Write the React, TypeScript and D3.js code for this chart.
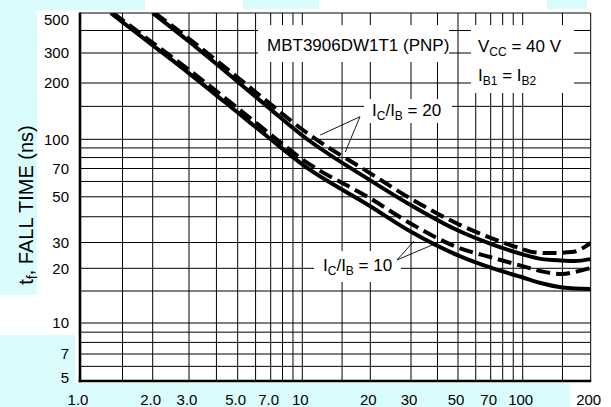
import React from 'react';
import * as d3 from 'd3';

// ---- axis calibration (printed log axes, values -> pixel) ----
const xTickValues = [1, 2, 3, 5, 7, 10, 20, 30, 50, 70, 100, 200];
const xTickLabels = ['1.0', '2.0', '3.0', '5.0', '7.0', '10', '20', '30', '50', '70', '100', '200'];
const xAxisPixels = [80, 152.7, 189, 237.7, 270.7, 302.3, 370.3, 411, 458, 490.7, 522.7, 590.7];

const yTickValues = [5, 7, 10, 20, 30, 50, 70, 100, 200, 300, 500];
const yTickLabels = ['5', '7', '10', '20', '30', '50', '70', '100', '200', '300', '500'];
const yAxisPixels = [381, 354, 323, 268.3, 242.5, 196.8, 168.5, 139.3, 83, 53, 13];

const xGridValues = [1.5, 2, 3, 4, 5, 6, 7, 8, 9, 10, 15, 20, 30, 40, 50, 60, 70, 80, 90, 100, 150];
const yGridValues = [6, 7, 8, 9, 10, 15, 20, 30, 40, 50, 60, 70, 80, 90, 100, 150, 200, 300, 400];

// ---- series: IC (mA) vs tf (ns) ----
const ic20Dashed = [2.05, 3, 5, 7, 10, 20, 30, 50, 70, 100, 110, 130, 165, 200];
const tf20Dashed = [500, 360, 215.5, 153.9, 112.8, 66.1, 48.9, 36.9, 31.6, 27, 25.8, 25.4, 25.8, 29.8];

const ic20Solid = [2, 3, 5, 7, 10, 20, 30, 50, 70, 100, 120, 150, 170, 200];
const tf20Solid = [500, 347.5, 203.5, 144.5, 104.8, 60.8, 45.5, 34.3, 29.4, 24.9, 23.2, 22.6, 22.4, 23.1];

const ic10Dashed = [1.37, 1.5, 2, 3, 5, 7, 10, 20, 30, 50, 70, 100, 120, 150, 170, 200];
const tf10Dashed = [500, 457, 342, 239, 146.6, 106, 78.3, 49.1, 37, 27.7, 23.8, 20.7, 19.3, 18.6, 19.1, 20.1];

const ic10Solid = [1.34, 1.5, 2, 3, 5, 7, 10, 20, 30, 50, 70, 100, 120, 150, 200];
const tf10Solid = [500, 445, 331, 228, 139, 100, 73.6, 45, 33.8, 24.5, 20.2, 17.8, 16.6, 15.7, 15.4];

// leader lines (IC, tf)
const leader20From: [number, number] = [18, 132];
const leader20To: [number, number][] = [[12, 105.4], [15.5, 85.6]];
const leader10From: [number, number] = [26.1, 22.8];
const leader10To: [number, number][] = [[31, 30.5], [39.8, 29.8]];

const FONT = 'Liberation Sans, Arial, Helvetica, sans-serif';
const CYAN = '#dafcfc';

export default function App() {
  const x = d3.scaleLog().domain(xTickValues).range(xAxisPixels);
  const y = d3.scaleLog().domain(yTickValues).range(yAxisPixels);

  const left = x(1), right = x(200), top = y(500), bottom = y(5);

  const line = d3
    .line<[number, number]>()
    .x((d) => x(d[0]))
    .y((d) => y(d[1]))
    .curve(d3.curveMonotoneX);

  const zip = (a: number[], b: number[]) => a.map((v, i) => [v, b[i]] as [number, number]);

  const series = [
    { pts: zip(ic20Dashed, tf20Dashed), dashed: true },
    { pts: zip(ic20Solid, tf20Solid), dashed: false },
    { pts: zip(ic10Dashed, tf10Dashed), dashed: true },
    { pts: zip(ic10Solid, tf10Solid), dashed: false },
  ];

  return (
    <svg
      width={611}
      height={407}
      style={{ position: 'absolute', left: 0, top: 0, background: '#fff' }}
      fontFamily={FONT}
    >
      <defs>
        <clipPath id="plot">
          <rect x={left} y={top} width={right - left} height={bottom - top} />
        </clipPath>
      </defs>
      {/* background tint patches */}
      <rect x={0} y={0} width={145} height={10} fill={CYAN} />
      <rect x={0} y={0} width={37} height={295} fill={CYAN} />
      <rect x={243} y={0} width={76} height={9} fill={CYAN} />
      <rect x={547} y={0} width={40} height={9} fill={CYAN} />
      <rect x={0} y={335} width={75} height={72} fill={CYAN} />
      <rect x={0} y={383} width={570} height={24} fill={CYAN} />

      <rect x={left} y={top} width={right - left} height={bottom - top} fill="#fff" />

      {/* grid */}
      <g stroke="#000" strokeWidth={1}>
        {xGridValues.map((v) => (
          <line key={'gx' + v} x1={x(v)} x2={x(v)} y1={top} y2={bottom} />
        ))}
        {yGridValues.map((v) => (
          <line key={'gy' + v} x1={left} x2={right} y1={y(v)} y2={y(v)} />
        ))}
      </g>

      {/* label boxes that interrupt the grid */}
      <g fill="#fff">
        <rect x={258} y={25} width={191} height={37} />
        <rect x={471} y={25} width={103} height={68} />
        <rect x={364} y={99} width={88} height={24} />
        <rect x={314} y={251} width={87} height={31} />
      </g>

      {/* curves */}
      <g clipPath="url(#plot)" fill="none" stroke="#000" strokeWidth={4}>
        {series.map((s, i) => (
          <path key={i} d={line(s.pts) || ''} strokeDasharray={s.dashed ? '14 6' : undefined} />
        ))}
      </g>

      {/* leaders */}
      <g stroke="#000" strokeWidth={0.9}>
        {leader20To.map((p, i) => (
          <line key={'l20' + i} x1={x(leader20From[0])} y1={y(leader20From[1])} x2={x(p[0])} y2={y(p[1])} />
        ))}
        {leader10To.map((p, i) => (
          <line key={'l10' + i} x1={x(leader10From[0])} y1={y(leader10From[1])} x2={x(p[0])} y2={y(p[1])} />
        ))}
      </g>

      {/* frame */}
      <g stroke="#000">
        <line x1={left} x2={right} y1={top} y2={top} strokeWidth={1} />
        <line x1={right} x2={right} y1={top} y2={bottom} strokeWidth={1} />
        <line x1={left} x2={left} y1={top - 0.5} y2={bottom + 1.2} strokeWidth={2.6} />
        <line x1={left - 1.3} x2={right + 0.5} y1={bottom} y2={bottom} strokeWidth={2.6} />
      </g>

      {/* tick labels */}
      <g fontSize={15} fill="#000">
        {yTickValues.map((v, i) => (
          <text key={'yt' + v} x={69} y={Math.min(Math.max(y(v), 20), 378)} dy="0.36em" textAnchor="end">
            {yTickLabels[i]}
          </text>
        ))}
        {xTickValues.map((v, i) => (
          <text key={'xt' + v} x={x(v) - 2} y={405} textAnchor="middle">
            {xTickLabels[i]}
          </text>
        ))}
      </g>

      {/* y axis title */}
      <text transform="translate(33,205) rotate(-90)" textAnchor="middle" fontSize={20} fill="#000">
        t<tspan fontSize={14} dy={4}>f</tspan>
        <tspan dy={-4}>, FALL TIME (ns)</tspan>
      </text>

      {/* annotations */}
      <g fontSize={17} fill="#000">
        <text x={267} y={51}>MBT3906DW1T1 (PNP)</text>
        <text x={478} y={52}>
          V<tspan fontSize={12} dy={4}>CC</tspan>
          <tspan dy={-4}> = 40 V</tspan>
        </text>
        <text x={478} y={81}>
          I<tspan fontSize={12} dy={4}>B1</tspan>
          <tspan dy={-4}> = I</tspan>
          <tspan fontSize={12} dy={4}>B2</tspan>
        </text>
        <text x={372} y={116}>
          I<tspan fontSize={12} dy={4}>C</tspan>
          <tspan dy={-4}>/I</tspan>
          <tspan fontSize={12} dy={4}>B</tspan>
          <tspan dy={-4}> = 20</tspan>
        </text>
        <text x={323} y={271}>
          I<tspan fontSize={12} dy={4}>C</tspan>
          <tspan dy={-4}>/I</tspan>
          <tspan fontSize={12} dy={4}>B</tspan>
          <tspan dy={-4}> = 10</tspan>
        </text>
      </g>
    </svg>
  );
}
